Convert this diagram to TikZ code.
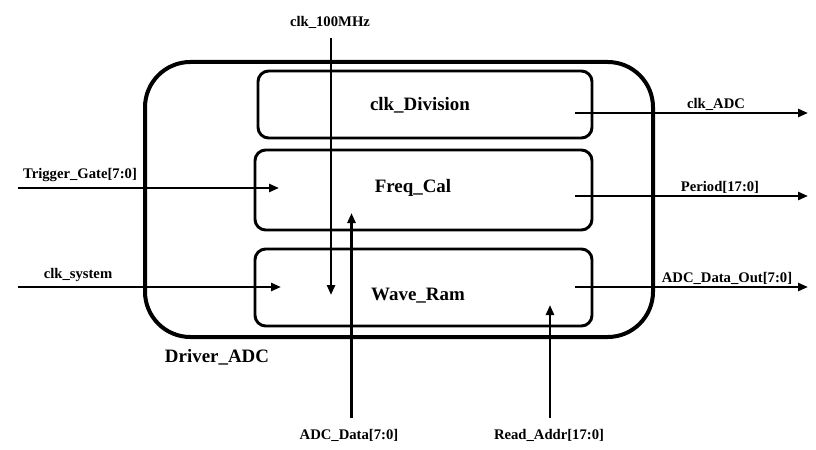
\documentclass[tikz,border=0pt]{standalone}
\usepackage{fontspec}
\setmainfont{Liberation Serif}
\usetikzlibrary{arrows.meta,positioning}

\begin{document}
\begin{tikzpicture}[x=0.75pt,y=-0.75pt,
  every node/.style={font=\fontsize{11}{13}\selectfont\bfseries},
  block/.style={draw,line width=2.2pt,rounded corners=8pt,inner sep=0pt},
  blockname/.style={font=\fontsize{14.2}{16}\selectfont\bfseries},
  sig/.style={line width=2.2pt,-{Triangle[length=7.5pt,width=6pt]}}]
  \useasboundingbox (0,0) rectangle (816,449);

  % outer module
  \node[draw,line width=3pt,rounded corners=34pt,inner sep=0pt,
        minimum width=508*0.75pt,minimum height=275*0.75pt] (drv) at (399,199.5) {};
  \node[blockname] (drvname) at (217,357) {Driver\_ADC};

  % sub blocks
  \node[block,minimum width=334*0.75pt,minimum height=67*0.75pt] (div) at (425,104.5) {};
  \node[block,minimum width=337*0.75pt,minimum height=80*0.75pt] (frq) at (423.5,190) {};
  \node[block,minimum width=337*0.75pt,minimum height=77*0.75pt] (ram) at (423.5,287.5) {};
  \node[blockname] (divname) at (420,105) {clk\_Division};
  \node[blockname] (frqname) at (413,188) {Freq\_Cal};
  \node[blockname] (ramname) at (418,296) {Wave\_Ram};

  % end points
  \coordinate (clkin)  at (331,38);
  \coordinate (clkend) at (331,295);
  \coordinate (trgin)  at (18,188);
  \coordinate (trgend) at (279,188);
  \coordinate (sysin)  at (18,287);
  \coordinate (sysend) at (281,287);
  \coordinate (adin)   at (351.5,418);
  \coordinate (adend)  at (351.5,213);
  \coordinate (rdin)   at (550,418);
  \coordinate (rdend)  at (550,305);
  \coordinate (o1a) at (575,113);  \coordinate (o1b) at (808,113);
  \coordinate (o2a) at (575,196);  \coordinate (o2b) at (808,196);
  \coordinate (o3a) at (575,287);  \coordinate (o3b) at (808,287);

  % inputs
  \draw[sig] (clkin) -- (clkend);
  \node (clklbl) at (330,22) {clk\_100MHz};
  \draw[sig] (trgin) -- (trgend);
  \node (trglbl) at (80,175) {Trigger\_Gate[7:0]};
  \draw[sig] (sysin) -- (sysend);
  \node (syslbl) at (78,275) {clk\_system};
  \draw[sig] (adin) -- (adend);
  \node (adlbl) at (349,435) {ADC\_Data[7:0]};
  \draw[sig] (rdin) -- (rdend);
  \node (rdlbl) at (549,435) {Read\_Addr[17:0]};

  % outputs
  \draw[sig] (o1a) -- (o1b);
  \node (o1lbl) at (716,104) {clk\_ADC};
  \draw[sig] (o2a) -- (o2b);
  \node (o2lbl) at (720,187) {Period[17:0]};
  \draw[sig] (o3a) -- (o3b);
  \node (o3lbl) at (727,278) {ADC\_Data\_Out[7:0]};
\end{tikzpicture}
\end{document}
